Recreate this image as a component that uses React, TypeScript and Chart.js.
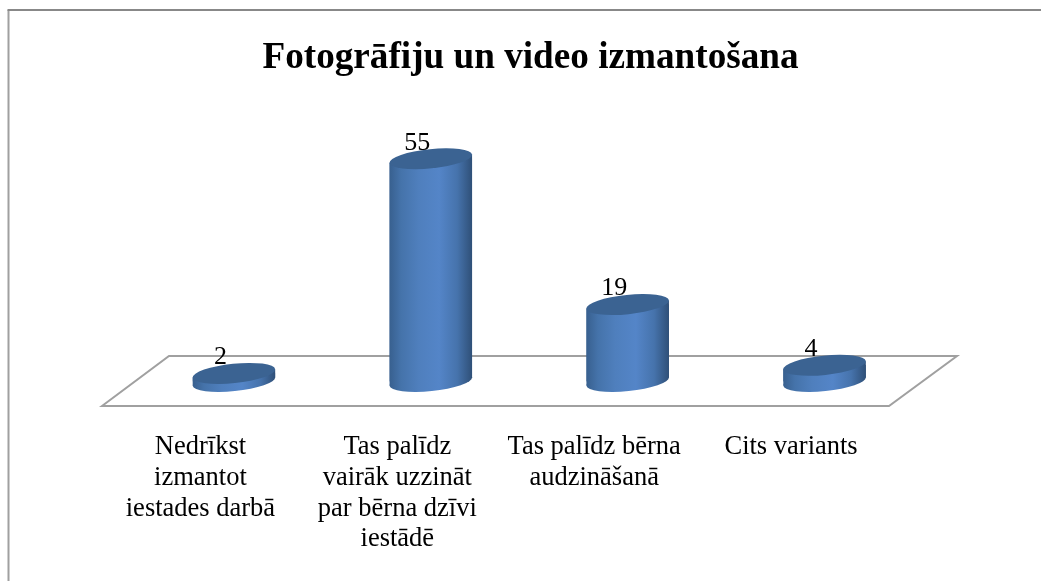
import React, { useEffect, useRef } from "react";
import { Chart, registerables } from "chart.js";

Chart.register(...registerables);

const chartTitle = "Fotogrāfiju un video izmantošana";
const categories: string[][] = [
  ["Nedrīkst", "izmantot", "iestades darbā"],
  ["Tas palīdz", "vairāk uzzināt", "par bērna dzīvi", "iestādē"],
  ["Tas palīdz bērna", "audzināšanā"],
  ["Cits variants"],
];
const values = [2, 55, 19, 4];

const SERIF = "'Liberation Serif', 'Times New Roman', serif";
const WIDTH = 1041;
const HEIGHT = 581;
const BAR_WIDTH = 82.5;
const TILT = (-5.86 * Math.PI) / 180;

function bodyGradient(ctx: CanvasRenderingContext2D, left: number, right: number) {
  const g = ctx.createLinearGradient(left, 0, right, 0);
  g.addColorStop(0, "#38608f");
  g.addColorStop(0.14, "#4573aa");
  g.addColorStop(0.35, "#4f7fbd");
  g.addColorStop(0.6, "#5485c8");
  g.addColorStop(0.82, "#4673ac");
  g.addColorStop(1, "#2f5078");
  return g;
}

function geom(bar: any) {
  const half = bar.width / 2;
  const rx = half * 1.005;
  const ry = half * 0.234;
  const skew = half * 0.097;
  return { half, rx, ry, skew };
}

function bodyPath(ctx: CanvasRenderingContext2D, bar: any) {
  const { half, skew } = geom(bar);
  ctx.moveTo(bar.x - half, bar.y + skew);
  ctx.lineTo(bar.x + half, bar.y - skew);
  ctx.lineTo(bar.x + half, bar.base - skew);
  ctx.lineTo(bar.x - half, bar.base + skew);
  ctx.closePath();
}

const cylinderPlugin = {
  id: "cylinder",
  afterLayout(chart: any) {
    if (chart.titleBlock) {
      chart.titleBlock.left += 1.25;
      chart.titleBlock.right += 1.25;
    }
  },
  beforeDraw(chart: any) {
    const { ctx } = chart;
    ctx.save();
    ctx.fillStyle = "#ffffff";
    ctx.fillRect(0, 0, WIDTH, HEIGHT);
    ctx.strokeStyle = "#a0a0a0";
    ctx.lineWidth = 2;
    ctx.beginPath();
    ctx.moveTo(8.5, 10);
    ctx.lineTo(8.5, HEIGHT);
    ctx.stroke();
    ctx.strokeStyle = "#888888";
    ctx.beginPath();
    ctx.moveTo(7.5, 10);
    ctx.lineTo(WIDTH, 10);
    ctx.stroke();
    ctx.restore();
  },
  beforeDatasetsDraw(chart: any) {
    const { ctx, chartArea } = chart;
    const b = chartArea.bottom;
    ctx.save();
    ctx.strokeStyle = "#a0a0a0";
    ctx.lineWidth = 2;
    ctx.lineJoin = "miter";
    ctx.beginPath();
    ctx.moveTo(chartArea.left - 33.5, b + 24.5);
    ctx.lineTo(chartArea.left + 33.5, b - 25.5);
    ctx.lineTo(chartArea.right + 34, b - 25.5);
    ctx.lineTo(chartArea.right - 34, b + 24.5);
    ctx.closePath();
    ctx.stroke();
    ctx.restore();

    const bars = chart.getDatasetMeta(0).data;
    bars.forEach((bar: any) => {
      const { half, rx, ry } = geom(bar);
      ctx.save();
      ctx.fillStyle = bodyGradient(ctx, bar.x - half, bar.x + half);
      ctx.beginPath();
      bodyPath(ctx, bar);
      ctx.fill();
      ctx.beginPath();
      ctx.ellipse(bar.x, bar.base, rx, ry, TILT, 0, Math.PI * 2);
      ctx.fill();
      ctx.restore();
    });

    ctx.save();
    ctx.beginPath();
    bars.forEach((bar: any) => bodyPath(ctx, bar));
    ctx.clip();
  },
  afterDatasetsDraw(chart: any) {
    const { ctx } = chart;
    ctx.restore();
    const bars = chart.getDatasetMeta(0).data;
    bars.forEach((bar: any, i: number) => {
      const { rx, ry } = geom(bar);
      ctx.save();
      ctx.fillStyle = "#3b6392";
      ctx.beginPath();
      ctx.ellipse(bar.x, bar.y, rx, ry, TILT, 0, Math.PI * 2);
      ctx.fill();
      ctx.fillStyle = "#000000";
      ctx.font = `26px ${SERIF}`;
      ctx.textAlign = "center";
      ctx.textBaseline = "middle";
      ctx.fillText(String(values[i]), bar.x - 13.5, bar.y - 16);
      ctx.restore();
    });
  },
};

export default function App() {
  const ref = useRef<HTMLCanvasElement | null>(null);

  useEffect(() => {
    if (!ref.current) return;
    const chart = new Chart(ref.current, {
      type: "bar",
      data: {
        labels: categories as any,
        datasets: [
          {
            data: values,
            barThickness: BAR_WIDTH,
            borderWidth: 0,
            backgroundColor: (c: any) => {
              const x = c.chart.scales.x;
              if (c.dataIndex === undefined || !x) return "#4f7fbd";
              const cx = x.getPixelForValue(c.dataIndex);
              const half = BAR_WIDTH / 2;
              if (!Number.isFinite(cx)) return "#4f7fbd";
              return bodyGradient(c.chart.ctx, cx - half, cx + half);
            },
          },
        ],
      },
      options: {
        animation: false,
        responsive: false,
        devicePixelRatio: 1,
        layout: { padding: { left: 135.5, right: 118, top: 0, bottom: 0 } },
        plugins: {
          legend: { display: false },
          tooltip: { enabled: false },
          title: {
            display: true,
            text: chartTitle,
            color: "#000000",
            font: { family: SERIF, size: 37.2, weight: "bold", lineHeight: 1.2 },
            padding: { top: 36.5, bottom: 16.86 },
          },
        },
        scales: {
          x: {
            grid: { display: false, drawTicks: false },
            border: { display: false },
            afterFit: (s: any) => {
              s.height = HEIGHT - 381.5;
            },
            ticks: {
              autoSkip: false,
              maxRotation: 0,
              minRotation: 0,
              padding: 50.5,
              labelOffset: -33.5,
              color: "#000000",
              font: { family: SERIF, size: 26.5, lineHeight: 1.158 },
            },
          },
          y: { display: false, min: 0, max: 70 },
        },
      } as any,
      plugins: [cylinderPlugin as any],
    });
    return () => chart.destroy();
  }, []);

  return (
    <div style={{ position: "fixed", left: 0, top: 0, width: WIDTH, height: HEIGHT, overflow: "hidden", background: "#fff" }}>
      <canvas ref={ref} width={WIDTH} height={HEIGHT} style={{ display: "block", width: WIDTH, height: HEIGHT }} />
    </div>
  );
}
